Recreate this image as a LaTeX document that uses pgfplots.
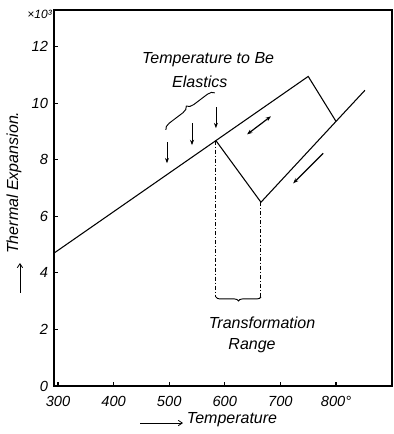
\documentclass[border=0pt]{standalone}
\usepackage{fontspec}
\setmainfont{Liberation Sans}
\usepackage{pgfplots}
\pgfplotsset{compat=1.18}
\usetikzlibrary{arrows.meta,decorations.pathreplacing}
\begin{document}
\begin{tikzpicture}
\useasboundingbox (-40.5pt,-36pt) rectangle (254.25pt,289.5pt);
\begin{axis}[
  scale only axis,
  width=253.5pt, height=282pt,
  xmin=292.8, xmax=900.7,
  ymin=0, ymax=13.3,
  axis line style={line width=1pt},
  xtick={300,400,500,600,700,800},
  xticklabels={300,400,500,600,700,800°},
  ytick={0,2,4,6,8,10,12},
  xtick pos=bottom, ytick pos=left,
  tick align=inside,
  major tick length=3pt,
  tick style={line width=0.8pt,black},
  /pgf/number format/assume math mode=true,
  ticklabel style={font=\fontsize{11}{13}\selectfont\itshape},
  xticklabel style={yshift=-4pt},
  yticklabel style={xshift=-1pt},
  clip=false,
]
% main heating line and peak
\addplot[black, line width=0.8pt] coordinates {(292.8,4.70) (750,10.95) (800,9.36)};
% lower line with V
\addplot[black, line width=0.8pt] coordinates {(852,10.46) (800,9.36) (665,6.50) (584,8.68)};
% dash-dot verticals
\addplot[black, line width=0.7pt, dash pattern=on 3pt off 1.5pt on 0.8pt off 1.5pt] coordinates {(584,8.68) (584,3.15)};
\addplot[black, line width=0.7pt, dash pattern=on 3pt off 1.5pt on 0.8pt off 1.5pt] coordinates {(665,6.50) (665,3.15)};
% brace below transformation range
\draw[line width=0.7pt, decorate, decoration={brace, mirror, amplitude=3pt}] (axis cs:584,3.15) -- (axis cs:665,3.15);
% slanted brace at top
\draw[line width=0.7pt, decorate, decoration={brace, amplitude=5pt}] (axis cs:494,9.06) -- (axis cs:582,10.37);
% down arrows
\draw[line width=0.6pt, -{Stealth[length=4pt,width=3pt]}] (axis cs:496,8.62) -- (axis cs:496,7.88);
\draw[line width=0.6pt, -{Stealth[length=4pt,width=3pt]}] (axis cs:541,9.29) -- (axis cs:541,8.52);
\draw[line width=0.6pt, -{Stealth[length=4pt,width=3pt]}] (axis cs:584,9.86) -- (axis cs:584,9.12);
% direction arrows
\draw[line width=0.9pt, {Stealth[length=4pt,width=3pt]}-{Stealth[length=4pt,width=3pt]}] (axis cs:640,8.90) -- (axis cs:683,9.54);
\draw[line width=0.9pt, -{Stealth[length=4pt,width=3pt]}] (axis cs:777,8.23) -- (axis cs:723,7.17);
% texts
\node[font=\fontsize{12}{14}\selectfont\itshape] at (axis cs:570,11.54) {Temperature to Be};
\node[font=\fontsize{12}{14}\selectfont\itshape] at (axis cs:555,10.76) {Elastics};
\node[font=\fontsize{12}{14}\selectfont\itshape] at (axis cs:667,2.23) {Transformation};
\node[font=\fontsize{12}{14}\selectfont\itshape] at (axis cs:649,1.42) {Range};
\node[font=\fontsize{9}{11}\selectfont\itshape] at (axis cs:267,13.13) {×10³};
% axis labels
\node[rotate=90, font=\fontsize{12}{14}\selectfont\itshape] at (axis cs:220.9,7.19) {Thermal Expansion.};
\draw[line width=0.6pt, -{Straight Barb[length=3pt,width=4pt]}] (axis cs:231.6,3.29) -- (axis cs:231.6,4.35);
\draw[line width=0.6pt, -{Straight Barb[length=3pt,width=4pt]}] (axis cs:447.5,-1.31) -- (axis cs:524.8,-1.31);
\node[font=\fontsize{12}{14}\selectfont\itshape] at (axis cs:613,-1.20) {Temperature};
\end{axis}
\end{tikzpicture}
\end{document}
